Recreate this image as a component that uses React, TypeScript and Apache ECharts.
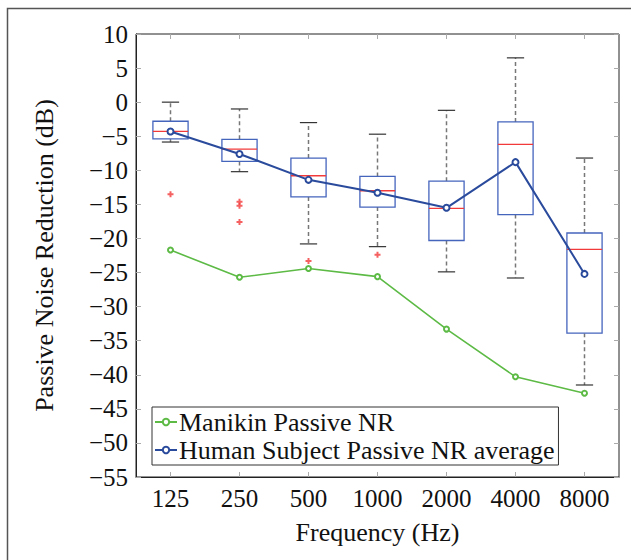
import React, { useEffect, useRef } from "react";
import * as echarts from "echarts";

const categories = ["125", "250", "500", "1000", "2000", "4000", "8000"];
// [min, Q1, median, Q3, max]
const boxStats = [
  [-5.85, -5.4, -4.3, -2.8, 0],
  [-10.2, -8.7, -6.9, -5.45, -1.0],
  [-20.8, -13.9, -10.8, -8.2, -3.0],
  [-21.2, -15.4, -13.0, -10.9, -4.7],
  [-24.9, -20.3, -15.6, -11.6, -1.2],
  [-25.8, -16.5, -6.2, -2.9, 6.5],
  [-41.5, -33.9, -21.6, -19.2, -8.2],
];
const outliers = [
  [0, -13.5],
  [1, -14.6],
  [1, -15.2],
  [1, -17.6],
  [2, -23.3],
  [3, -22.4],
];
const humanAverage = [-4.3, -7.6, -11.4, -13.3, -15.5, -8.8, -25.2];
const manikin = [-21.7, -25.7, -24.4, -25.6, -33.3, -40.3, -42.7];
const yTicks = { min: -55, max: 10, step: 5 };

const FONT = "Liberation Serif";

export default function App() {
  const ref = useRef<HTMLDivElement>(null);
  useEffect(() => {
    if (!ref.current) return;
    const chart = echarts.init(ref.current, null, { renderer: "svg" });
    const boxData = boxStats.map((b, i) => [i, ...b]);
    const option: any = {
      animation: false,
      backgroundColor: "#fff",
      textStyle: { fontFamily: FONT },
      grid: {
        left: 136,
        top: 34,
        right: 12,
        bottom: 83,
        show: true,
        borderColor: "#222",
        borderWidth: 1,
        backgroundColor: "transparent",
      },
      legend: {
        orient: "vertical",
        left: 152,
        top: 407,
        data: ["Manikin Passive NR", "Human Subject Passive NR average"],
        backgroundColor: "#fff",
        borderColor: "#333",
        borderWidth: 1,
        borderRadius: 0,
        padding: [2, 4, 2, 2],
        itemGap: 2,
        itemWidth: 22,
        itemHeight: 8,
        textStyle: {
          fontFamily: FONT,
          fontSize: 26,
          color: "#111",
          lineHeight: 26,
          padding: [0, 0, 0, -3],
        },
      },
      xAxis: [
        {
          type: "category",
          data: categories,
          position: "bottom",
          name: "Frequency (Hz)",
          nameLocation: "middle",
          nameGap: 42,
          nameTextStyle: { fontFamily: FONT, fontSize: 26, color: "#111" },
          axisLine: { show: true, onZero: false, lineStyle: { color: "#222", width: 1 } },
          axisTick: {
            show: true,
            inside: true,
            alignWithLabel: true,
            length: 5,
            lineStyle: { color: "#aaa" },
          },
          axisLabel: { fontFamily: FONT, fontSize: 25, color: "#111", margin: 9 },
          splitLine: { show: false },
        },
        {
          type: "category",
          data: categories,
          position: "top",
          axisLine: { show: false, onZero: false },
          axisTick: {
            show: true,
            inside: true,
            alignWithLabel: true,
            length: 5,
            lineStyle: { color: "#aaa" },
          },
          axisLabel: { show: false },
        },
      ],
      yAxis: [
        {
          type: "value",
          min: yTicks.min,
          max: yTicks.max,
          interval: yTicks.step,
          name: "Passive Noise Reduction (dB)",
          nameLocation: "middle",
          nameGap: 79,
          nameTextStyle: { fontFamily: FONT, fontSize: 26, color: "#111" },
          axisLine: { show: true, onZero: false, lineStyle: { color: "#222", width: 1 } },
          axisTick: { show: true, inside: true, length: 5, lineStyle: { color: "#aaa" } },
          axisLabel: {
            fontFamily: FONT,
            fontSize: 25,
            color: "#111",
            margin: 8,
            formatter: (v: number) => String(v).replace("-", "\u2212"),
          },
          splitLine: { show: false },
        },
        {
          type: "value",
          min: yTicks.min,
          max: yTicks.max,
          interval: yTicks.step,
          position: "right",
          axisLine: { show: false, onZero: false },
          axisTick: { show: true, inside: true, length: 5, lineStyle: { color: "#aaa" } },
          axisLabel: { show: false },
          splitLine: { show: false },
        },
      ],
      graphic: [
        {
          type: "rect",
          shape: { x: 7.5, y: 8.5, width: 700, height: 700 },
          style: { fill: "none", stroke: "#555", lineWidth: 1.5 },
          silent: true,
          z: 100,
        },
      ],
      series: [
        {
          type: "custom",
          name: "box",
          data: boxData,
          encode: { x: 0, y: [1, 2, 3, 4, 5] },
          z: 2,
          renderItem: (params: any, api: any) => {
            const idx = api.value(0);
            const vals = [1, 2, 3, 4, 5].map((k) => api.value(k));
            const pts = vals.map((v) => api.coord([idx, v]));
            const cx = pts[0][0];
            const band = api.size([1, 0])[0];
            const bw = band * 0.51;
            const cw = band * 0.25;
            const [pMin, pQ1, pMed, pQ3, pMax] = pts.map((p: number[]) => p[1]);
            return {
              type: "group",
              children: [
                {
                  type: "line",
                  shape: { x1: cx, y1: pQ1, x2: cx, y2: pMin },
                  style: { stroke: "#777", lineWidth: 1.5, lineDash: [4, 3] },
                },
                {
                  type: "line",
                  shape: { x1: cx, y1: pQ3, x2: cx, y2: pMax },
                  style: { stroke: "#777", lineWidth: 1.5, lineDash: [4, 3] },
                },
                {
                  type: "line",
                  shape: { x1: cx - cw / 2, y1: pMin, x2: cx + cw / 2, y2: pMin },
                  style: { stroke: "#333", lineWidth: 1.2 },
                },
                {
                  type: "line",
                  shape: { x1: cx - cw / 2, y1: pMax, x2: cx + cw / 2, y2: pMax },
                  style: { stroke: "#333", lineWidth: 1.2 },
                },
                {
                  type: "rect",
                  shape: { x: cx - bw / 2, y: pQ3, width: bw, height: pQ1 - pQ3 },
                  style: { fill: "#fff", stroke: "#4565bd", lineWidth: 1.3 },
                },
                {
                  type: "line",
                  shape: { x1: cx - bw / 2, y1: pMed, x2: cx + bw / 2, y2: pMed },
                  style: { stroke: "#f23a3a", lineWidth: 1.3 },
                },
              ],
            };
          },
        },
        {
          type: "scatter",
          name: "outliers",
          data: outliers,
          symbol: "path://M2,0H4V2H6V4H4V6H2V4H0V2H2Z",
          symbolSize: 6,
          itemStyle: { color: "#f23a3a" },
          z: 3,
        },
        {
          type: "line",
          name: "Manikin Passive NR",
          data: manikin,
          symbol: "emptyCircle",
          symbolSize: 5,
          lineStyle: { color: "#5cba45", width: 1.6 },
          itemStyle: { color: "#5cba45", borderWidth: 1.5 },
          z: 4,
        },
        {
          type: "line",
          name: "Human Subject Passive NR average",
          data: humanAverage,
          symbol: "emptyCircle",
          symbolSize: 6,
          lineStyle: { color: "#2a4a9c", width: 2 },
          itemStyle: { color: "#2a4a9c", borderWidth: 1.5 },
          z: 5,
        },
      ],
    };
    chart.setOption(option);
    return () => chart.dispose();
  }, []);
  return (
    <div
      ref={ref}
      style={{ position: "fixed", left: 0, top: 0, width: 631, height: 560 }}
    />
  );
}
